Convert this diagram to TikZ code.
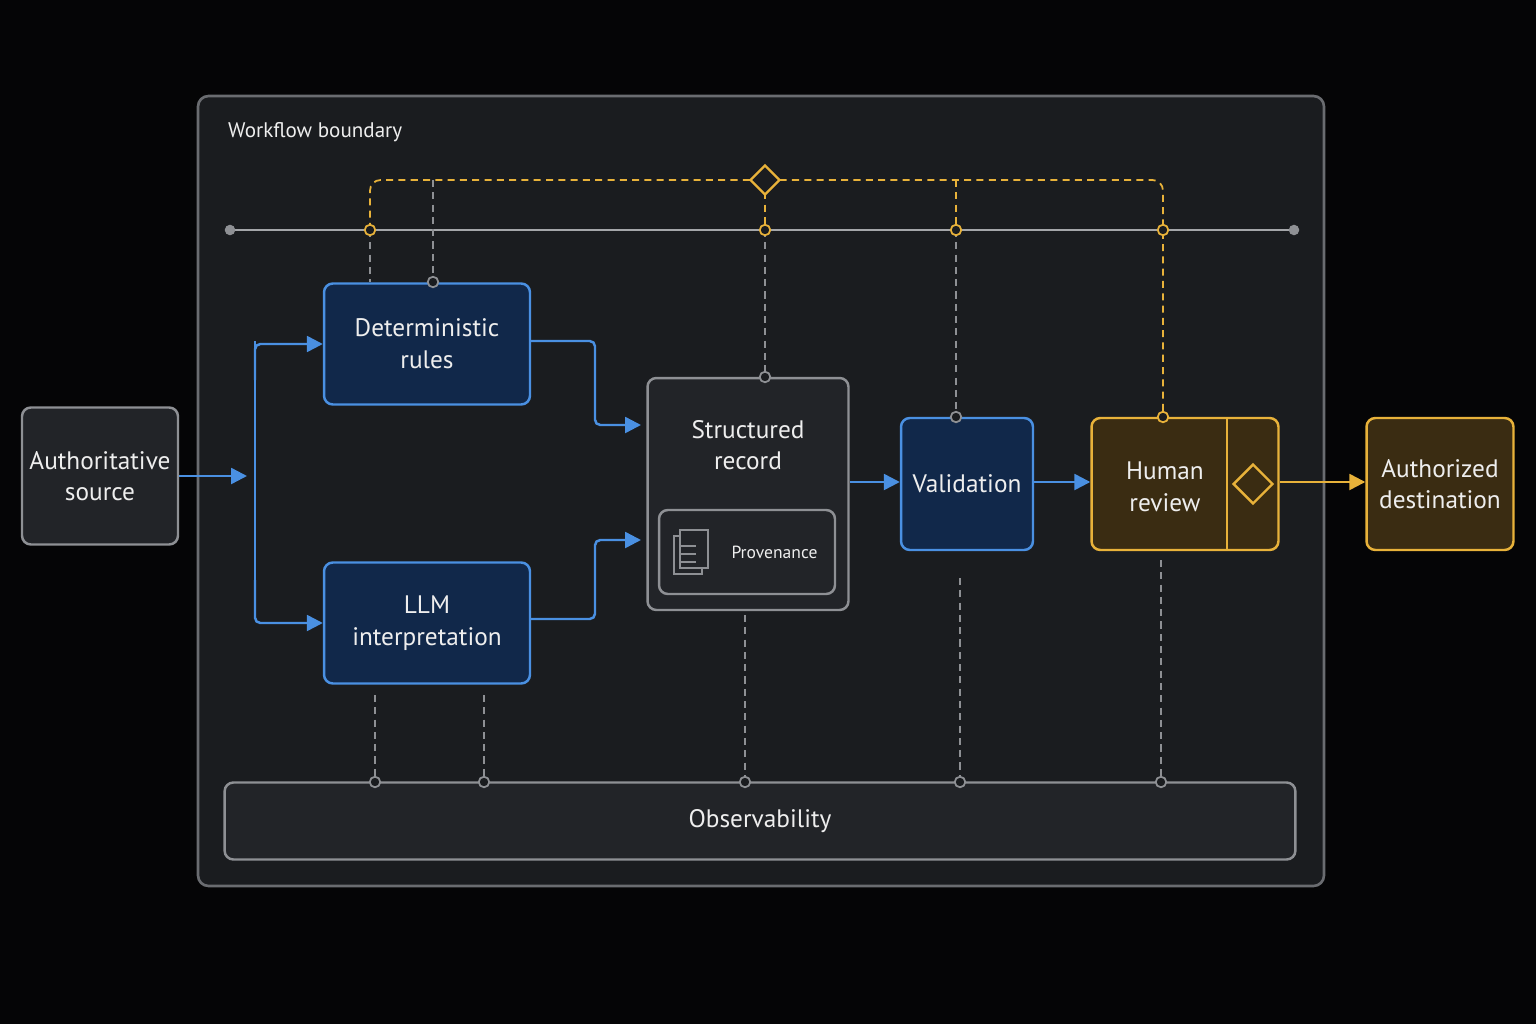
\documentclass[tikz,border=0pt]{standalone}
\usepackage{fontspec}
\setmainfont{PT Sans}
\usetikzlibrary{arrows.meta,shapes.geometric}
\definecolor{bgc}{HTML}{050506}
\definecolor{panel}{HTML}{1A1C1F}
\definecolor{edge}{HTML}{6A6C70}
\definecolor{gline}{HTML}{8E9094}
\definecolor{bluel}{HTML}{4A90E2}
\definecolor{bluef}{HTML}{11284A}
\definecolor{gold}{HTML}{E8B23A}
\definecolor{goldf}{HTML}{3A2C12}
\definecolor{darkf}{HTML}{222428}
\definecolor{txt}{HTML}{EEEEEE}
\tikzset{
  grbox/.style={draw=gline,line width=1.4pt,fill=darkf,rounded corners=5pt,text=txt,align=center,font=\Large},
  blbox/.style={draw=bluel,line width=1.4pt,fill=bluef,rounded corners=5pt,text=txt,align=center,font=\Large},
  gdbox/.style={draw=gold,line width=1.4pt,fill=goldf,rounded corners=5pt,text=txt,align=center,font=\Large},
  flow/.style={bluel,line width=1.4pt,-{Triangle[length=9pt,width=9pt]}},
  gdash/.style={gline,line width=1pt,dash pattern=on 4pt off 3pt},
  ydash/.style={gold,line width=1pt,dash pattern=on 4pt off 3pt},
  pin/.style={circle,draw,line width=1pt,fill=panel,inner sep=0pt,minimum size=6pt}
}
\begin{document}
\begin{tikzpicture}[x=0.02cm,y=-0.02cm]
				\fill[bgc] (0,0) rectangle (1536,1024);
				\useasboundingbox (0,0) rectangle (1536,1024);
				% boundary
				\draw[edge,line width=1.5pt,fill=panel,rounded corners=6pt] (198,96) rectangle (1324,886);
				\node[anchor=west,text=txt,font=\large] (wb) at (222,132) {Workflow boundary};
				
				% nodes
				\node[grbox,minimum width=3.12cm,minimum height=2.74cm,inner xsep=1pt] (src) at (100,476) {Authoritative\\source};
				\node[blbox,minimum width=4.12cm,minimum height=2.42cm] (det) at (427,344) {Deterministic\\rules};
				\node[blbox,minimum width=4.12cm,minimum height=2.42cm] (llm) at (427,623) {LLM\\interpretation};
				\node[grbox,minimum width=4.02cm,minimum height=4.64cm] (rec) at (748,494) {};
				\node[text=txt,font=\Large,align=center] (rect) at (748,445) {Structured\\record};
				\node[grbox,minimum width=3.52cm,minimum height=1.68cm,font=\normalsize] (prov) at (747,552) {\hspace{1.1cm}Provenance};
				\node[blbox,minimum width=2.64cm,minimum height=2.64cm] (val) at (967,484) {Validation};
				\node[gdbox,minimum width=3.74cm,minimum height=2.64cm] (hum) at (1185,484) {};
				\node[text=txt,font=\Large,align=center] (humt) at (1165,487) {Human\\review};
				\node[gdbox,minimum width=2.94cm,minimum height=2.64cm] (dst) at (1440,484) {Authorized\\destination};
				\node[grbox,minimum width=21.42cm,minimum height=1.54cm] (obs) at (760,821) {Observability};
				
				% details in human review and provenance
				\draw[gold,line width=1.4pt] (1227,418) -- (1227,550);
				\node[diamond,draw=gold,line width=1.4pt,minimum size=0.8cm,inner sep=0pt] (gate) at (1253,484) {};
				\foreach \d in {0,6}{
					\draw[gline,line width=0.8pt,fill=darkf] (674+\d,536-\d) rectangle (702+\d,574-\d);
				}
				\foreach \y in {546,554,562}{
					\draw[gline,line width=0.8pt] (680,\y) -- (696,\y);
				}
				
				% timeline and policy bus
				\coordinate (tl) at (230,230);
				\coordinate (tr) at (1294,230);
				\draw[gline!80,line width=1.3pt] (tl) -- (tr);
				\fill[gline] (tl) circle (3pt) (tr) circle (3pt);
				\draw[ydash,rounded corners=6pt] (370,230) -- (370,180) -- (1163,180) -- (1163,417);
				\draw[gdash] (370,230) -- (370,282);
				\draw[gdash] (433,180) -- (det.north -| 433,0);
				\draw[ydash] (765,180) -- (765,230);
				\draw[gdash] (765,230) -- (rec.north -| 765,0);
				\draw[ydash] (956,180) -- (956,230);
				\draw[gdash] (956,230) -- (956,417);
				\node[diamond,draw=gold,fill=panel,line width=1.3pt,minimum size=0.6cm,inner sep=0pt] (pol) at (765,180) {};
				\foreach \x in {370,765,956,1163}{
					\node[pin,draw=gold] at (\x,230) {};
				}
				\node[pin,draw=gline] at (433,282) {};
				\node[pin,draw=gline] at (765,377) {};
				\node[pin,draw=gline] at (956,417) {};
				\node[pin,draw=gold] at (1163,417) {};
				
				% flows
				\coordinate (split) at (247,476);
				\draw[flow] (src.east) -- (split);
				\draw[bluel,line width=1.4pt,rounded corners=3pt] (255,341) -- (255,619);
				\draw[flow,rounded corners=3pt] (255,380) |- (det.west);
				\draw[flow,rounded corners=3pt] (255,580) |- (llm.west);
				\draw[flow,rounded corners=3pt] (det.east |- 0,341) -- (595,341) -- (595,425) -- (641,425);
				\draw[flow,rounded corners=3pt] (llm.east |- 0,619) -- (595,619) -- (595,540) -- (641,540);
				\draw[flow] (rec.east |- 0,482) -- (val.west |- 0,482);
				\draw[flow] (val.east |- 0,482) -- (hum.west |- 0,482);
				\draw[gold,line width=1.4pt,-{Triangle[length=9pt,width=9pt]}] (hum.east |- 0,482) -- (dst.west |- 0,482);
				
				% observability taps
				\foreach \x/\y in {375/695, 484/695, 745/615, 960/578, 1161/560}{
					\draw[gdash] (\x,\y) -- (\x,782);
					\node[pin,draw=gline] at (\x,782) {};
				}
			\end{tikzpicture}
\end{document}
